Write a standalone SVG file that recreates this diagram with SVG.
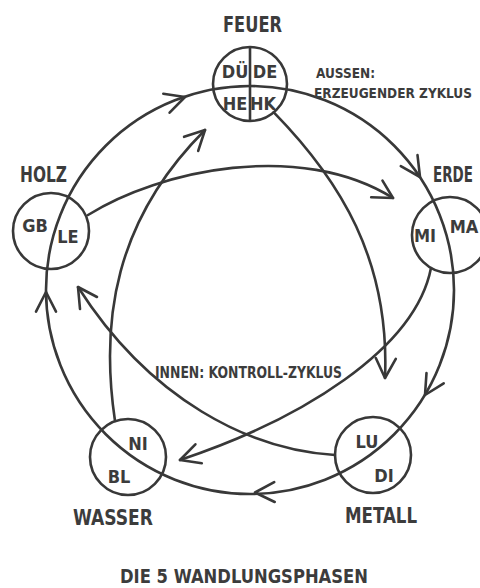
<svg xmlns="http://www.w3.org/2000/svg" width="480" height="588" viewBox="0 0 480 588">
<style>
.ln{fill:none;stroke:#383838;stroke-width:2.6;stroke-linecap:round;stroke-linejoin:round}
.nd{fill:none;stroke:#383838;stroke-width:2.6}
text{font-family:"DejaVu Sans Condensed","DejaVu Sans",sans-serif;font-weight:bold;fill:#3c3c3c}
.nm{font-size:22px}
.lb{font-size:18px;text-anchor:middle}
.sm{font-size:14px}
.md{font-size:16px}
</style>
<rect width="480" height="588" fill="#fff"/>
<g id="connectors">
  <circle class="ln" cx="250" cy="290" r="204"/>
  <path class="ln" d="M169.6,112.7 L185,97 L163.3,93.8"/>
  <path class="ln" d="M400.8,166.2 L420,177 L417.5,155.1"/>
  <path class="ln" d="M426.5,373 L425,395 L443.7,383.3"/>
  <path class="ln" d="M274.2,482.1 L255,492.5 L274.7,502"/>
  <path class="ln" d="M56,311.6 L46,292 L36,311.6"/>
  <path class="ln" d="M88,215 C160,170 300,140 393,198"/>
  <path class="ln" d="M371.2,197.2 L393,198 L382.5,180.7"/>
  <path class="ln" d="M431,268 C415,350 300,420 180,460"/>
  <path class="ln" d="M195.4,444.3 L180,460 L201.8,463.3"/>
  <path class="ln" d="M115,421 C100,320 115,220 205,130"/>
  <path class="ln" d="M198.2,150.9 L205,130 L184.1,136.8"/>
  <path class="ln" d="M273.8,112.3 C340,180 390,260 385,378"/>
  <path class="ln" d="M375.8,358 L385,378 L395.8,358.8"/>
  <path class="ln" d="M335,455 C250,450 150,400 78,287"/>
  <path class="ln" d="M80,309 L78,287 L97,297"/>
</g>
<g id="feuer">
  <circle class="nd" cx="250" cy="84" r="37"/>
  <line class="nd" x1="250" y1="47" x2="250" y2="121"/>
  <text class="nm" x="223" y="32" textLength="59" lengthAdjust="spacingAndGlyphs">FEUER</text>
  <text class="lb" x="235" y="78">DÜ</text>
  <text class="lb" x="265" y="78">DE</text>
  <text class="lb" x="235" y="110">HE</text>
  <text class="lb" x="263" y="110">HK</text>
</g>
<g id="holz">
  <circle class="nd" cx="51" cy="231" r="38"/>
  <text class="nm" x="20" y="182" textLength="47" lengthAdjust="spacingAndGlyphs">HOLZ</text>
  <text class="lb" x="35" y="232">GB</text>
  <text class="lb" x="68" y="243">LE</text>
</g>
<g id="erde">
  <circle class="nd" cx="450" cy="235" r="38"/>
  <text class="nm" transform="translate(433,182) scale(0.68,1)">ERDE</text>
  <text class="lb" x="425" y="242">MI</text>
  <text class="lb" x="464" y="233">MA</text>
</g>
<g id="wasser">
  <circle class="nd" cx="128" cy="457" r="38"/>
  <text class="nm" x="73" y="525" textLength="80" lengthAdjust="spacingAndGlyphs">WASSER</text>
  <text class="lb" x="138" y="450">NI</text>
  <text class="lb" x="119" y="483">BL</text>
</g>
<g id="metall">
  <circle class="nd" cx="373" cy="455" r="38"/>
  <text class="nm" x="345" y="523" textLength="72" lengthAdjust="spacingAndGlyphs">METALL</text>
  <text class="lb" x="367" y="448">LU</text>
  <text class="lb" x="384" y="482">DI</text>
</g>
<g id="labels">
  <text class="sm" x="316" y="78" textLength="59" lengthAdjust="spacingAndGlyphs">AUSSEN:</text>
  <text class="sm" x="314" y="98" textLength="158" lengthAdjust="spacingAndGlyphs">ERZEUGENDER ZYKLUS</text>
  <text class="md" x="155" y="378" textLength="187" lengthAdjust="spacingAndGlyphs">INNEN: KONTROLL-ZYKLUS</text>
  <text class="nm" x="120" y="583" textLength="248" lengthAdjust="spacingAndGlyphs" style="font-size:20px">DIE 5 WANDLUNGSPHASEN</text>
</g>
</svg>
